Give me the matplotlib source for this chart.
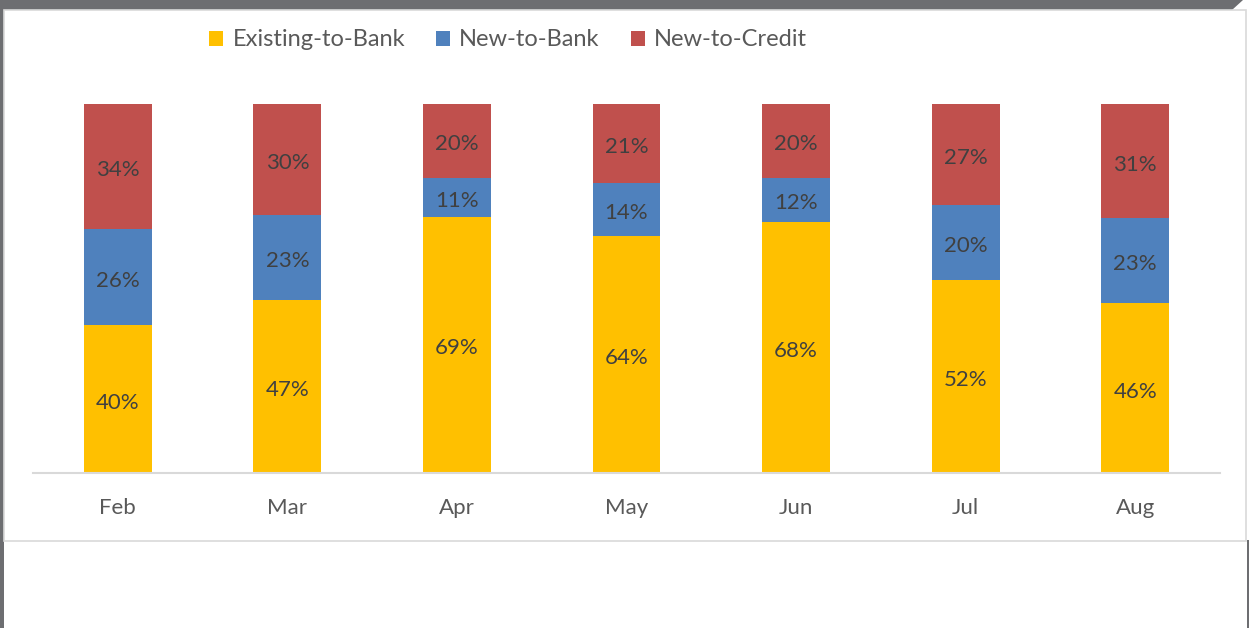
import numpy as np
import matplotlib
matplotlib.use('Agg')
import matplotlib.pyplot as plt
from matplotlib.patches import Rectangle, Polygon

months = ['Feb', 'Mar', 'Apr', 'May', 'Jun', 'Jul', 'Aug']
existing = [0.40, 0.47, 0.694, 0.642, 0.68, 0.523, 0.46]
new_bank = [0.26, 0.23, 0.106, 0.144, 0.12, 0.204, 0.23]
new_credit = [0.34, 0.30, 0.200, 0.214, 0.20, 0.273, 0.31]
series = ['Existing-to-Bank', 'New-to-Bank', 'New-to-Credit']
colors = ['#ffc000', '#4f81bd', '#c0504d']

plt.rcParams['font.family'] = ['Lato', 'DejaVu Sans']

W, H = 1249, 628
fig = plt.figure(figsize=(W / 100, H / 100), dpi=100)
fig.patch.set_facecolor('white')

# frame decoration: dark strip top and left, chart box with light border
deco = [
    Polygon([(0, 1), (1243 / W, 1), (1232 / W, 1 - 10 / H), (0, 1 - 10 / H)],
            closed=True, color='#6d6e71', lw=0),
    Rectangle((0, 0), 4 / W, 1, color='#6d6e71', lw=0),
    Rectangle((1247 / W, 0), 2 / W, 1 - 540 / H, color='#6d6e71', lw=0),
    Rectangle((4 / W, 1 - 541 / H), 1242 / W, 531 / H,
              facecolor='white', edgecolor='#d9d9d9', lw=1.2),
]
for p in deco:
    p.set_transform(fig.transFigure)
    p.set_zorder(-5)
    fig.add_artist(p)

ax = fig.add_axes([33 / W, 1 - 473 / H, (1220 - 33) / W, (473 - 104) / H])
ax.set_facecolor('none')
ax.set_zorder(2)
x = np.arange(len(months))
bottom = np.zeros(len(months))
for name, vals, c in zip(series, [existing, new_bank, new_credit], colors):
    vals = np.array(vals)
    ax.bar(x, vals, 0.40, bottom=bottom, color=c, label=name, zorder=2)
    for xi, b, v in zip(x, bottom, vals):
        ax.annotate(f"{v * 100:.0f}%", (xi, b + v / 2), xytext=(0, -2.5),
                    textcoords='offset points', ha='center', va='center',
                    fontsize=16, color='#404040', zorder=3)
    bottom += vals

ax.set_xlim(-0.5, len(months) - 0.5)
ax.set_ylim(0, 1)
ax.set_yticks([])
for s in ['top', 'right', 'left']:
    ax.spines[s].set_visible(False)
ax.spines['bottom'].set_color('#d9d9d9')
ax.spines['bottom'].set_linewidth(1.5)
ax.set_xticks(x)
ax.set_xticklabels(months, fontsize=16, color='#595959')
ax.tick_params(axis='x', length=0, pad=18)

leg = fig.legend(loc='center', bbox_to_anchor=(508 / W, 1 - 40 / H), ncol=3,
                 frameon=False, fontsize=17, handlelength=0.6, handleheight=0.6,
                 handletextpad=0.4, columnspacing=1.3, labelcolor='#595959')
leg.set_zorder(3)

fig.savefig('out.png', dpi=100)
